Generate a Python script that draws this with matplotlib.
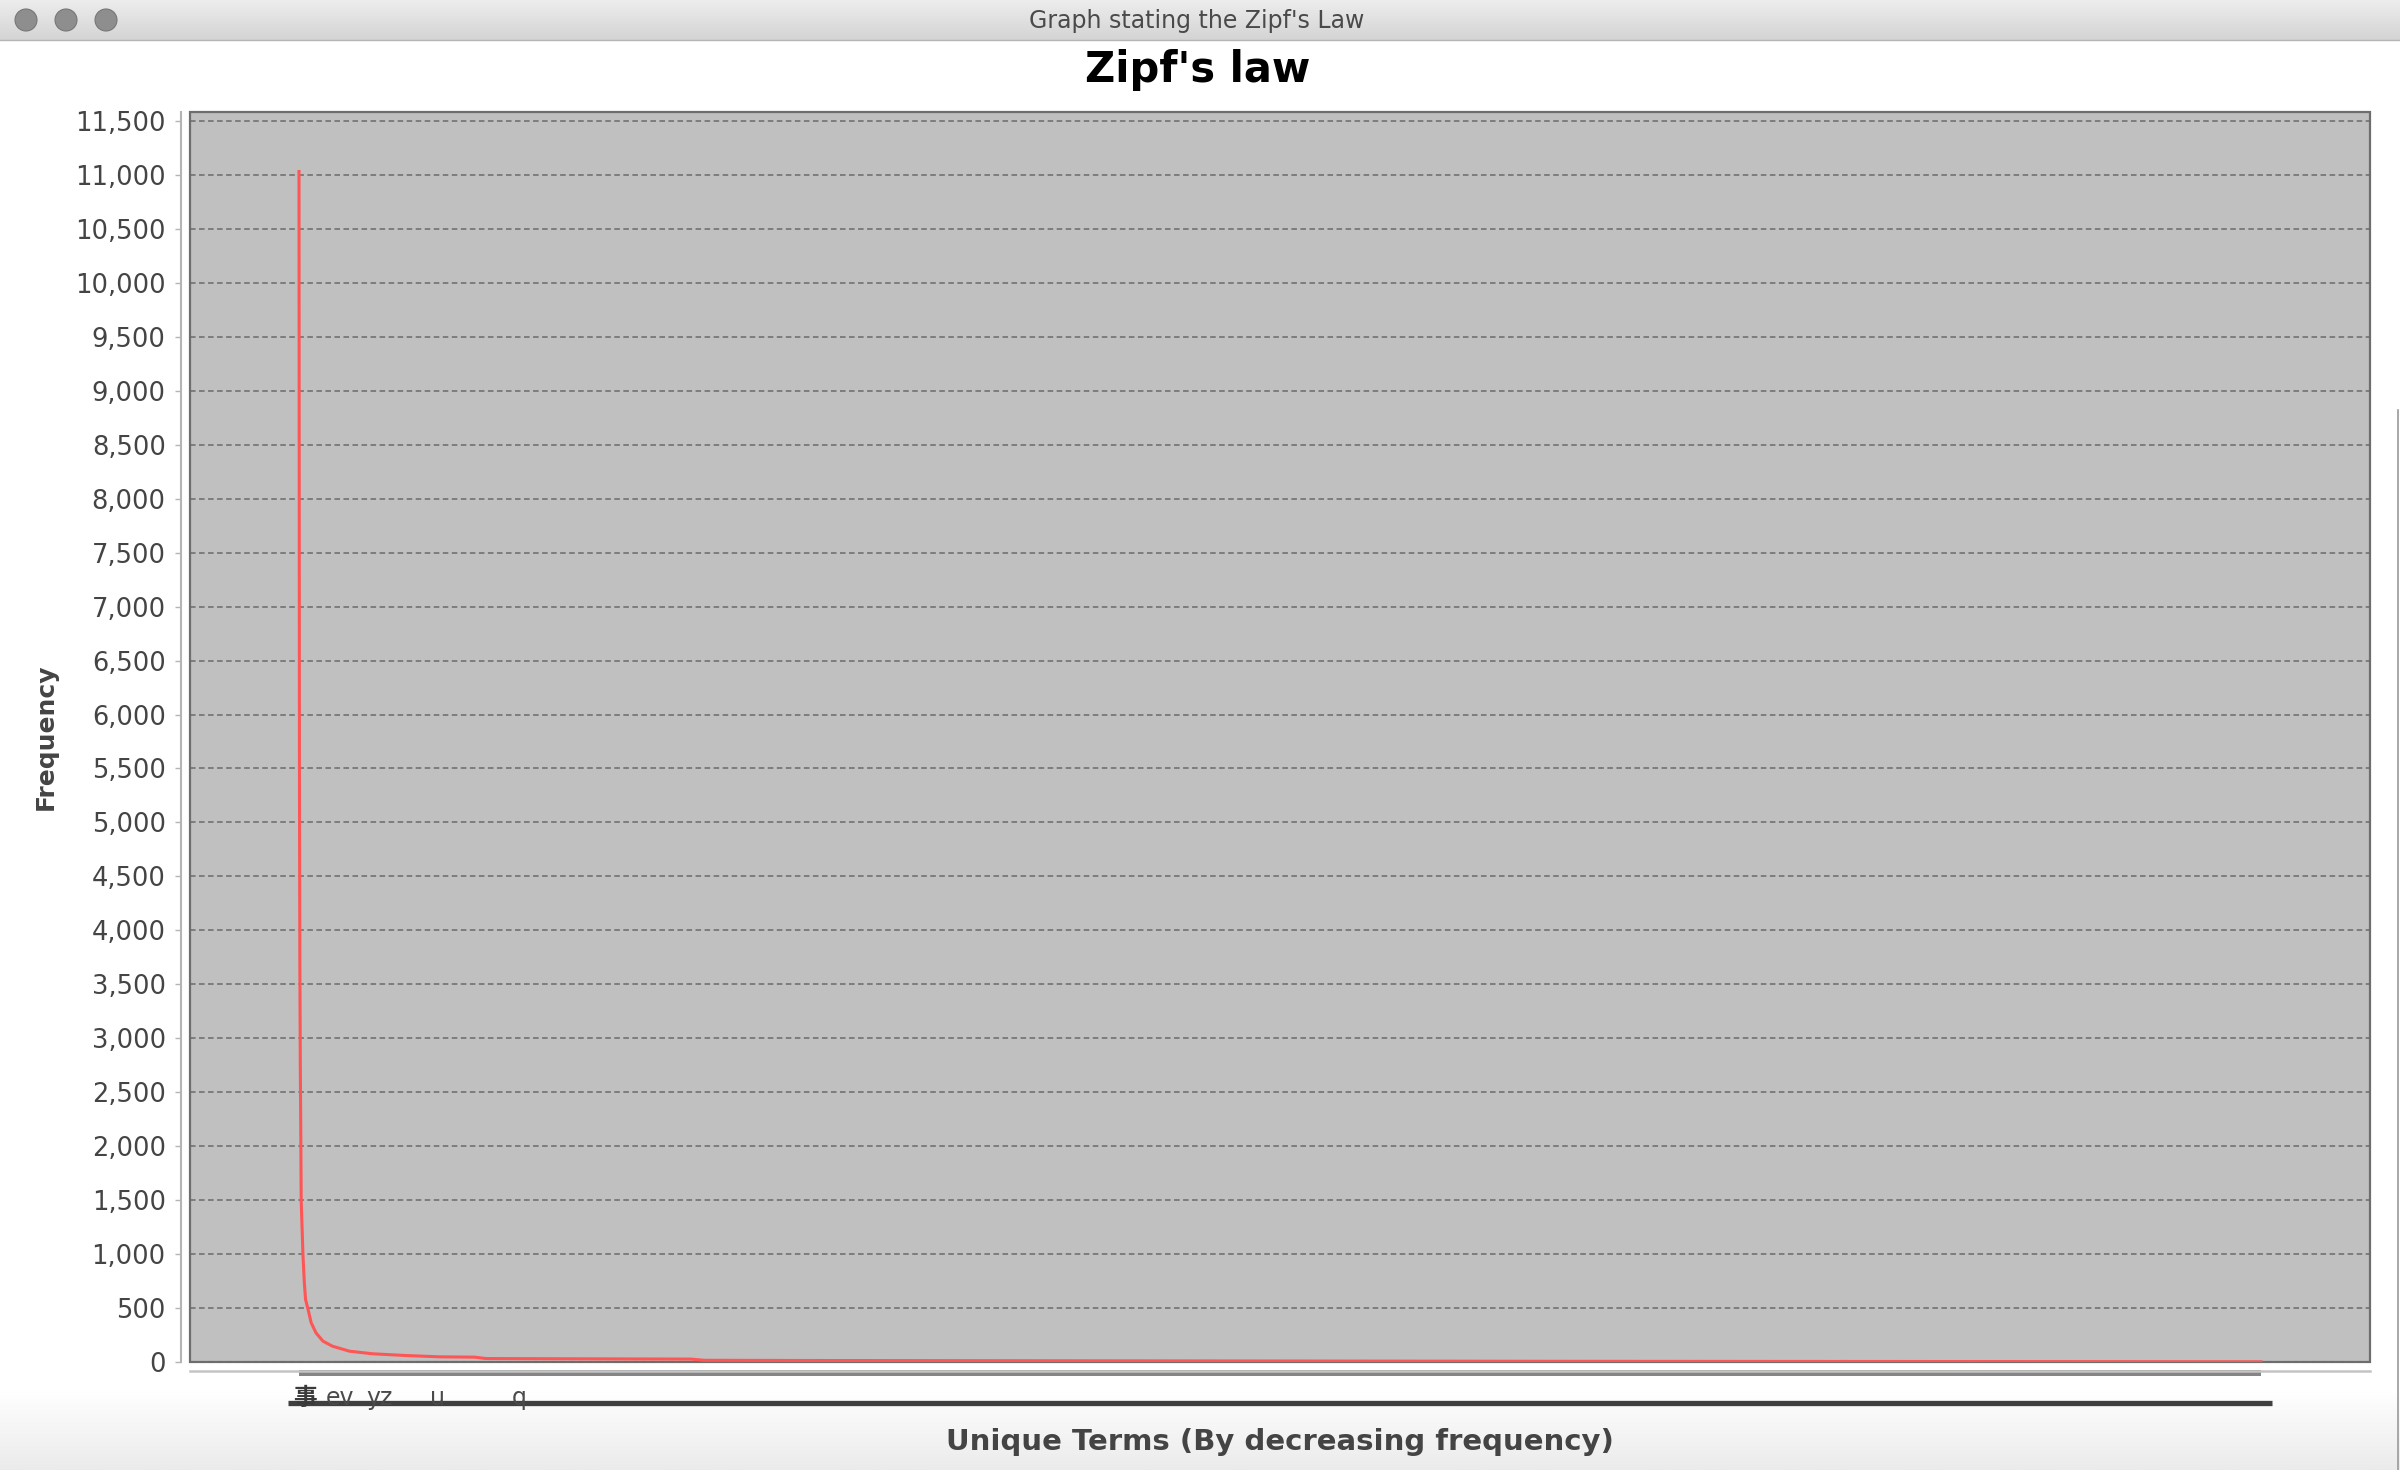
import numpy as np
import matplotlib.pyplot as plt
import matplotlib.transforms as mtransforms
from matplotlib.colors import LinearSegmentedColormap
from matplotlib.patches import Circle
from matplotlib.ticker import MultipleLocator, FuncFormatter

plt.rcParams['font.family'] = ['DejaVu Sans', 'Noto Sans CJK SC']
plt.rcParams['lines.scale_dashes'] = False

# texts
window_title = "Graph stating the Zipf's Law"
chart_title = "Zipf's law"
x_title = "Unique Terms (By decreasing frequency)"
y_title = "Frequency"

# rank / frequency (about 4500 unique terms)
term_rank = [1, 2, 3, 4, 5, 6, 8, 10, 13, 16, 21, 29, 40, 56, 78, 117, 170,
             247, 323, 404, 430, 600, 900, 930, 1149, 1600, 2066, 2984, 3900, 4500]
term_freq = [11032, 5500, 3700, 2750, 2200, 1500, 1250, 1000, 750, 580, 500,
             363, 270, 193, 146, 100, 76, 60, 48, 45, 32, 30, 27, 16, 14, 12,
             10, 6, 4, 2]

# the few category labels that stay readable on the crowded axis
shown_terms = ["事", "ev", "yz", "u", "q"]
shown_rank = [14, 94, 186, 318, 506]

W, H = 2400, 1470
fig = plt.figure(figsize=(W / 100, H / 100), dpi=100)
fig.patch.set_facecolor('white')

# window frame (title bar, buttons, bottom shading)
bg = fig.add_axes([0, 0, 1, 1], zorder=-5)
bg.set_xlim(0, W)
bg.set_ylim(H, 0)
bg.axis('off')
grad = np.linspace(0, 1, 64).reshape(-1, 1)
bg.imshow(grad, cmap=LinearSegmentedColormap.from_list('bar', ['#ededed', '#d4d4d4']),
          extent=(0, W, 40, 0), aspect='auto')
bg.imshow(grad, cmap=LinearSegmentedColormap.from_list('foot', ['#ffffff', '#ebebeb']),
          extent=(0, W, H, 1390), aspect='auto')
bg.plot([0, W], [40, 40], color='#b5b5b5', lw=1)
bg.plot([W - 2, W - 2], [410, H], color='#9a9a9a', lw=1.2)
for cx in (26, 66, 106):
    bg.add_patch(Circle((cx, 20), 11, facecolor='#8e8e8e', edgecolor='#777777', lw=0.8))
bg.text(1197, 21, window_title, ha='center', va='center', fontsize=17, color='#4a4a4a')

# chart
ax = fig.add_axes([190 / W, 1 - 1362 / H, 2180 / W, 1250 / H])
ax.set_facecolor('#c0c0c0')
ax.patch.set_edgecolor('#6e6e6e')
ax.patch.set_linewidth(1.6)

ax.plot(term_rank, term_freq, color='#ff5555', lw=2.2, solid_joinstyle='round', zorder=3)

n_terms = term_rank[-1]
span = (n_terms - term_rank[0]) / 0.9
xmin, xmax = term_rank[0] - 0.05 * span, n_terms + 0.05 * span
ax.set_xlim(xmin, xmax)
ax.set_ylim(0, max(term_freq) * 1.05)

ax.yaxis.set_major_locator(MultipleLocator(500))
ax.yaxis.set_major_formatter(FuncFormatter(lambda v, p: f"{int(v):,}"))
ax.yaxis.grid(True, color='#6a6a6a', lw=1.1, linestyle=(0, (4, 2.5)))
ax.set_axisbelow(True)
ax.set_xticks([])
ax.tick_params(axis='y', length=4, width=1, color='#b4b4b4', labelsize=18.5,
               labelcolor='#444444', pad=7)

for s in ('top', 'right'):
    ax.spines[s].set_visible(False)
ax.spines['left'].set_position(('outward', 6.5))
ax.spines['left'].set_color('#b4b4b4')
ax.spines['left'].set_linewidth(1.5)
ax.spines['bottom'].set_position(('outward', 6.5))
ax.spines['bottom'].set_color('#c4c4c4')
ax.spines['bottom'].set_linewidth(1.8)

# crowded category axis: tick marks and labels merge into bands
trans = mtransforms.blended_transform_factory(ax.transData, ax.transAxes)
ax.plot([term_rank[0], n_terms], [-0.0088, -0.0088], transform=trans, color='#858585',
        lw=4.3, solid_capstyle='butt', clip_on=False)
for i, (word, r) in enumerate(zip(shown_terms, shown_rank)):
    ax.text(r, -0.0285, word, transform=trans, ha='center', va='center',
            fontsize=17, color='#3a3a3a' if i == 0 else '#4a4a4a',
            fontweight='bold' if i == 0 else 'normal', clip_on=False)
pad = 0.005 * (xmax - xmin)
ax.plot([term_rank[0] - pad, n_terms + pad], [-0.0325, -0.0325], transform=trans,
        color='#404040', lw=3.8, solid_capstyle='butt', clip_on=False)

fig.text(1198 / W, 1 - 70 / H, chart_title, ha='center', va='center',
         fontsize=30, fontweight='bold', color='black')
fig.text(1280 / W, 1 - 1442 / H, x_title, ha='center', va='center',
         fontsize=21, fontweight='bold', color='#444444')
fig.text(46 / W, 1 - 737 / H, y_title, ha='center', va='center', rotation=90,
         fontsize=18, fontweight='bold', color='#444444')

fig.savefig('out.png', dpi=100)
